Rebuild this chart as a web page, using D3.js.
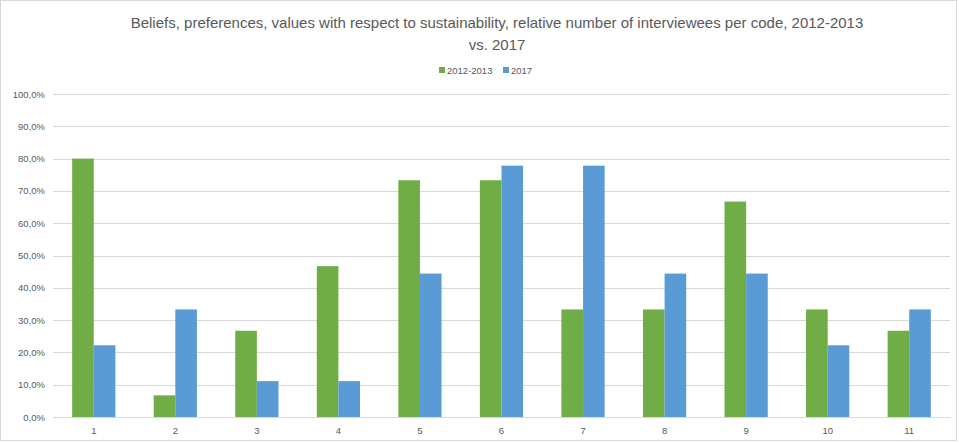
<!DOCTYPE html>
<html><head><meta charset="utf-8">
<script src="https://cdn.jsdelivr.net/npm/d3@7"></script>
<style>body{margin:0;background:#fff;} text{font-family:"Liberation Sans",Arial,sans-serif;}</style>
</head><body>
<svg id="c" width="959" height="443"></svg>
<script>
const categories = ["1","2","3","4","5","6","7","8","9","10","11"];
const seriesNames = ["2012-2013","2017"];
const values2012 = [80.0, 6.7, 26.7, 46.7, 73.3, 73.3, 33.3, 33.3, 66.7, 33.3, 26.7];
const values2017 = [22.2, 33.3, 11.1, 11.1, 44.4, 77.8, 77.8, 44.4, 44.4, 22.2, 33.3];
const yTicks = [0,10,20,30,40,50,60,70,80,90,100];
const colors = ["#70AD47","#5B9BD5"];

const svg = d3.select("#c");
svg.append("rect").attr("x",0.5).attr("y",0.5).attr("width",956).attr("height",440)
  .attr("fill","#fff").attr("stroke","#D9D9D9");

const m = {l:53, r:950, t:94, b:417};
const x = d3.scaleBand().domain(categories).range([m.l,m.r]).paddingInner(0.47).paddingOuter(0.235);
const xs = d3.scaleBand().domain(seriesNames).range([0,x.bandwidth()]);
const y = d3.scaleLinear().domain([0,100]).range([m.b,m.t]);

// grid
svg.append("g").selectAll("line").data(yTicks).join("line")
  .attr("x1",m.l).attr("x2",m.r).attr("y1",d=>Math.round(y(d))+0.5).attr("y2",d=>Math.round(y(d))+0.5)
  .attr("stroke","#D9D9D9").attr("stroke-width",1);

// y axis labels
const yAxis = d3.axisLeft(y).tickValues(yTicks).tickSize(0).tickPadding(8)
  .tickFormat(d=>d3.format(".1f")(d).replace(".",",")+"%");
const ga = svg.append("g").attr("transform",`translate(${m.l},0)`).call(yAxis);
ga.select(".domain").remove();
ga.selectAll("text").attr("fill","#595959").style("font-size","9.5px");

// bars
const data = categories.map((c,i)=>({c, v:[values2012[i],values2017[i]]}));
const g = svg.append("g");
data.forEach(d=>{
  d.v.forEach((v,j)=>{
    g.append("rect").attr("x",x(d.c)+xs(seriesNames[j])).attr("width",xs.bandwidth())
      .attr("y",y(v)).attr("height",y(0)-y(v)).attr("fill",colors[j]);
  });
});

// x axis
const xAxis = d3.axisBottom(x).tickSize(0).tickPadding(10);
const gx = svg.append("g").attr("transform",`translate(0,${m.b})`).call(xAxis);
gx.select(".domain").attr("stroke","#D9D9D9");
gx.selectAll("text").attr("fill","#595959").style("font-size","9.5px");

// title
svg.append("text").attr("x",497).attr("y",28).attr("text-anchor","middle")
  .attr("fill","#595959").style("font-size","15px")
  .text("Beliefs, preferences, values with respect to sustainability, relative number of interviewees per code, 2012-2013");
svg.append("text").attr("x",497).attr("y",50).attr("text-anchor","middle")
  .attr("fill","#595959").style("font-size","15px").text("vs. 2017");

// legend
const leg = svg.append("g");
const legX = [439, 503];
seriesNames.forEach((s,i)=>{
  leg.append("rect").attr("x",legX[i]).attr("y",67).attr("width",6).attr("height",6).attr("fill",colors[i]);
  leg.append("text").attr("x",legX[i]+8).attr("y",74).attr("fill","#595959").style("font-size","9.5px").text(s);
});
</script>
</body></html>
